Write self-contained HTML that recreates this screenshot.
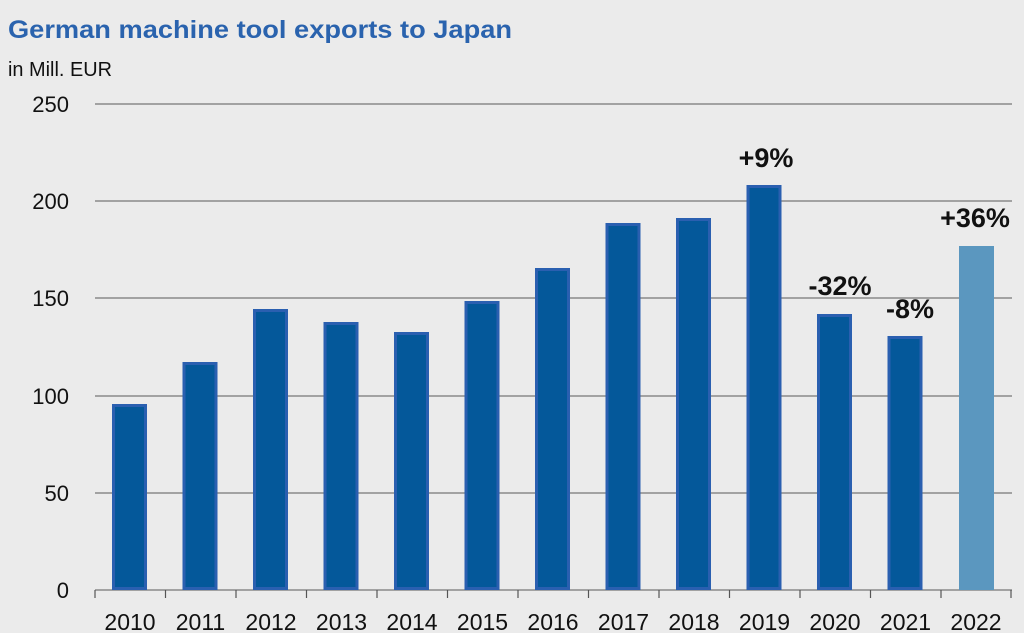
<!DOCTYPE html>
<html><head><style>
body{margin:0;background:#ebebeb;}
svg{display:block}
</style></head><body>
<svg width="1024" height="633" xmlns="http://www.w3.org/2000/svg" font-family="Liberation Sans, sans-serif">
<rect width="1024" height="633" fill="#ebebeb"/>
<text x="8" y="38" font-size="25" font-weight="bold" fill="#2a63ae" textLength="504" lengthAdjust="spacingAndGlyphs">German machine tool exports to Japan</text>
<text x="8" y="76" font-size="20" fill="#111" textLength="104" lengthAdjust="spacingAndGlyphs">in Mill. EUR</text>
<g stroke="#777" stroke-width="1.2">
<line x1="95" x2="1012" y1="104" y2="104"/>
<line x1="95" x2="1012" y1="201" y2="201"/>
<line x1="95" x2="1012" y1="298" y2="298"/>
<line x1="95" x2="1012" y1="396" y2="396"/>
<line x1="95" x2="1012" y1="493" y2="493"/>
<line x1="95" x2="1012" y1="590" y2="590"/>
</g>
<g font-size="22" fill="#111" text-anchor="end">
<text x="69" y="112">250</text><text x="69" y="209">200</text><text x="69" y="306">150</text>
<text x="69" y="404">100</text><text x="69" y="501">50</text><text x="69" y="598">0</text>
</g>
<g id="bars" fill="#04589a" stroke="#2a5fb0" stroke-width="3">
<rect x="113.5" y="405.5" width="32" height="183"/>
<rect x="184" y="363.5" width="32" height="225"/>
<rect x="254.5" y="310.5" width="32" height="278"/>
<rect x="325" y="323.5" width="32" height="265"/>
<rect x="395.5" y="333.5" width="32" height="255"/>
<rect x="466" y="302.5" width="32" height="286"/>
<rect x="536.5" y="269.5" width="32" height="319"/>
<rect x="607" y="224.5" width="32" height="364"/>
<rect x="677.5" y="219.5" width="32" height="369"/>
<rect x="748" y="186.5" width="32" height="402"/>
<rect x="818.5" y="315.5" width="32" height="273"/>
<rect x="889" y="337.5" width="32" height="251"/>
</g>
<rect x="959" y="246" width="35" height="344" fill="#5b97bf"/>
<g stroke="#555" stroke-width="1.2">
<line x1="95" x2="95" y1="590" y2="598"/><line x1="165.5" x2="165.5" y1="590" y2="598"/>
<line x1="236" x2="236" y1="590" y2="598"/><line x1="306.5" x2="306.5" y1="590" y2="598"/>
<line x1="377" x2="377" y1="590" y2="598"/><line x1="447.5" x2="447.5" y1="590" y2="598"/>
<line x1="518" x2="518" y1="590" y2="598"/><line x1="588.5" x2="588.5" y1="590" y2="598"/>
<line x1="659" x2="659" y1="590" y2="598"/><line x1="729.5" x2="729.5" y1="590" y2="598"/>
<line x1="800" x2="800" y1="590" y2="598"/><line x1="870.5" x2="870.5" y1="590" y2="598"/>
<line x1="941" x2="941" y1="590" y2="598"/><line x1="1011" x2="1011" y1="590" y2="598"/>
</g>
<g font-size="23" fill="#111" text-anchor="middle">
<text x="130" y="630">2010</text><text x="200.5" y="630">2011</text><text x="271" y="630">2012</text>
<text x="341.5" y="630">2013</text><text x="412" y="630">2014</text><text x="482.5" y="630">2015</text>
<text x="553" y="630">2016</text><text x="623.5" y="630">2017</text><text x="694" y="630">2018</text>
<text x="764.5" y="630">2019</text><text x="835" y="630">2020</text><text x="905.5" y="630">2021</text>
<text x="976" y="630">2022</text>
</g>
<g font-size="27" font-weight="bold" fill="#111" text-anchor="middle">
<text x="766" y="167">+9%</text>
<text x="840" y="295">-32%</text>
<text x="910" y="318">-8%</text>
<text x="975" y="227">+36%</text>
</g>
</svg>
</body></html>
